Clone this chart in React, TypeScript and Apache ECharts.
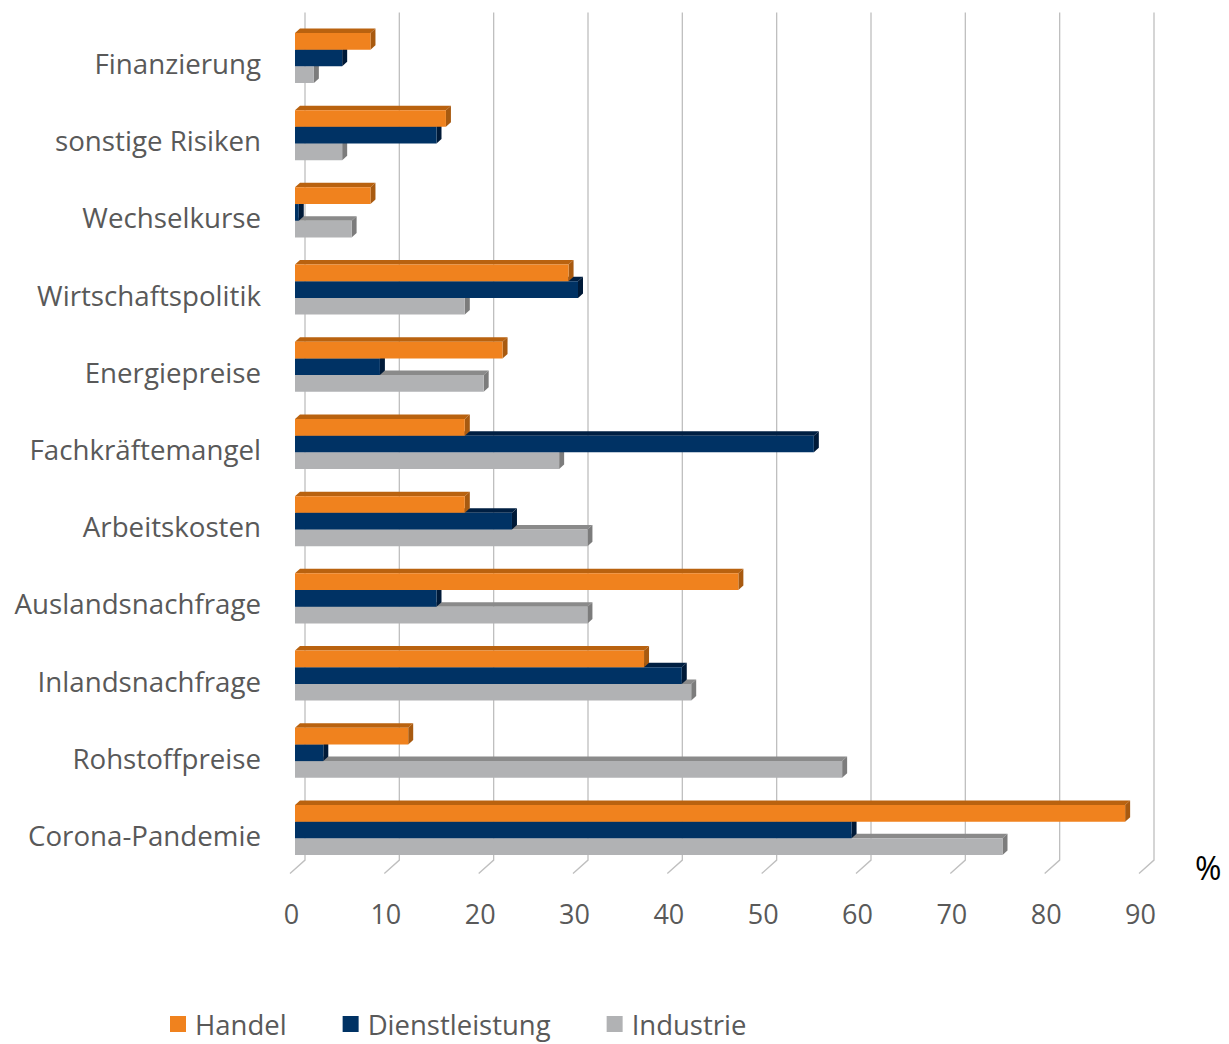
import React, { useEffect, useRef } from "react";
import * as echarts from "echarts";

const categories = [
  "Finanzierung",
  "sonstige Risiken",
  "Wechselkurse",
  "Wirtschaftspolitik",
  "Energiepreise",
  "Fachkräftemangel",
  "Arbeitskosten",
  "Auslandsnachfrage",
  "Inlandsnachfrage",
  "Rohstoffpreise",
  "Corona-Pandemie",
];
const handel = [8, 16, 8, 29, 22, 18, 18, 47, 37, 12, 88];
const dienstleistung = [5, 15, 0.4, 30, 9, 55, 23, 15, 41, 3, 59];
const industrie = [2, 5, 6, 18, 20, 28, 31, 31, 42, 58, 75];
const xTicks = [0, 10, 20, 30, 40, 50, 60, 70, 80, 90];

const seriesDefs = [
  { name: "Handel", values: handel, front: "#F0821E", top: "#B9620F", side: "#A85A10", z: 5 },
  { name: "Dienstleistung", values: dienstleistung, front: "#003264", top: "#001F42", side: "#001A38", z: 4 },
  { name: "Industrie", values: industrie, front: "#B1B2B4", top: "#8A8A8A", side: "#7C7C7C", z: 3 },
];

export default function App() {
  const ref = useRef<HTMLDivElement>(null);
  useEffect(() => {
    if (!ref.current) return;
    const chart = echarts.init(ref.current, null, { renderer: "svg" });
    const dx = 5;
    const dy = 4.5;
    const barSeries = seriesDefs.map((d, s) => ({
      type: "custom",
      name: d.name,
      z: d.z,
      itemStyle: { color: d.front },
      encode: { x: 0, y: 1 },
      data: d.values.map((v, i) => [v, i]),
      renderItem: (params: any, api: any) => {
        const v = api.value(0);
        const c = api.value(1);
        const p0 = api.coord([0, c]);
        const p1 = api.coord([v, c]);
        const band = api.size([0, 1])[1];
        const h = band * 0.216;
        const y = p0[1] - band * 0.389 + s * h;
        const x0 = p0[0];
        const x1 = p1[0];
        return {
          type: "group",
          children: [
            {
              type: "polygon",
              shape: { points: [[x0, y], [x0 + dx, y - dy], [x1 + dx, y - dy], [x1, y]] },
              style: { fill: d.top },
            },
            {
              type: "polygon",
              shape: { points: [[x1, y], [x1 + dx, y - dy], [x1 + dx, y + h - dy], [x1, y + h]] },
              style: { fill: d.side },
            },
            {
              type: "rect",
              shape: { x: x0, y, width: Math.max(x1 - x0, 0), height: h },
              style: { fill: d.front },
            },
          ],
        };
      },
    }));

    const gridSeries = {
      type: "custom",
      name: "grid",
      z: 1,
      silent: true,
      encode: { x: 0, y: 1 },
      data: xTicks.map((t) => [t, 0]),
      renderItem: (params: any, api: any) => {
        const x = api.coord([api.value(0), 0])[0];
        const cs = params.coordSys;
        const top = cs.y;
        const bottom = cs.y + cs.height;
        return {
          type: "polyline",
          shape: {
            points: [
              [x + 10, top - 12],
              [x + 10, bottom - 13.5],
              [x - 5, bottom],
            ],
          },
          style: { stroke: "#BFBFBF", lineWidth: 1.3, fill: null },
        };
      },
    };

    chart.setOption({
      animation: false,
      textStyle: { fontFamily: "Open Sans" },
      grid: { left: 295, right: 85, top: 24.4, bottom: 1044 - 873.6, containLabel: false },
      xAxis: {
        type: "value",
        min: 0,
        max: 90,
        interval: 10,
        splitLine: { show: false },
        axisLine: { show: false },
        axisTick: { show: false },
        axisLabel: { fontSize: 27, color: "#595959", margin: 26, fontFamily: "Open Sans", padding: [0, 7, 0, 0] },
      },
      yAxis: {
        type: "category",
        data: categories,
        inverse: true,
        axisLine: { show: false },
        axisTick: { show: false },
        splitLine: { show: false },
        axisLabel: { fontSize: 27.7, color: "#595959", margin: 34, fontFamily: "Open Sans" },
      },
      legend: {
        data: ["Handel", "Dienstleistung", "Industrie"],
        left: 170,
        top: 1010,
        padding: 0,
        icon: "rect",
        itemWidth: 16,
        itemHeight: 16,
        itemGap: 56,
        textStyle: { fontSize: 27.5, color: "#595959", fontFamily: "Open Sans", padding: [0, 0, 0, 4] },
      },
      graphic: [
        {
          type: "text",
          left: 1195,
          top: 851,
          style: { text: "%", fontSize: 32, fill: "#000000", fontFamily: "Open Sans" },
        },
      ],
      series: [gridSeries, ...barSeries],
    });
    return () => chart.dispose();
  }, []);
  return (
    <div
      ref={ref}
      style={{ position: "absolute", left: 0, top: 0, width: 1229, height: 1044, background: "#fff" }}
    />
  );
}
